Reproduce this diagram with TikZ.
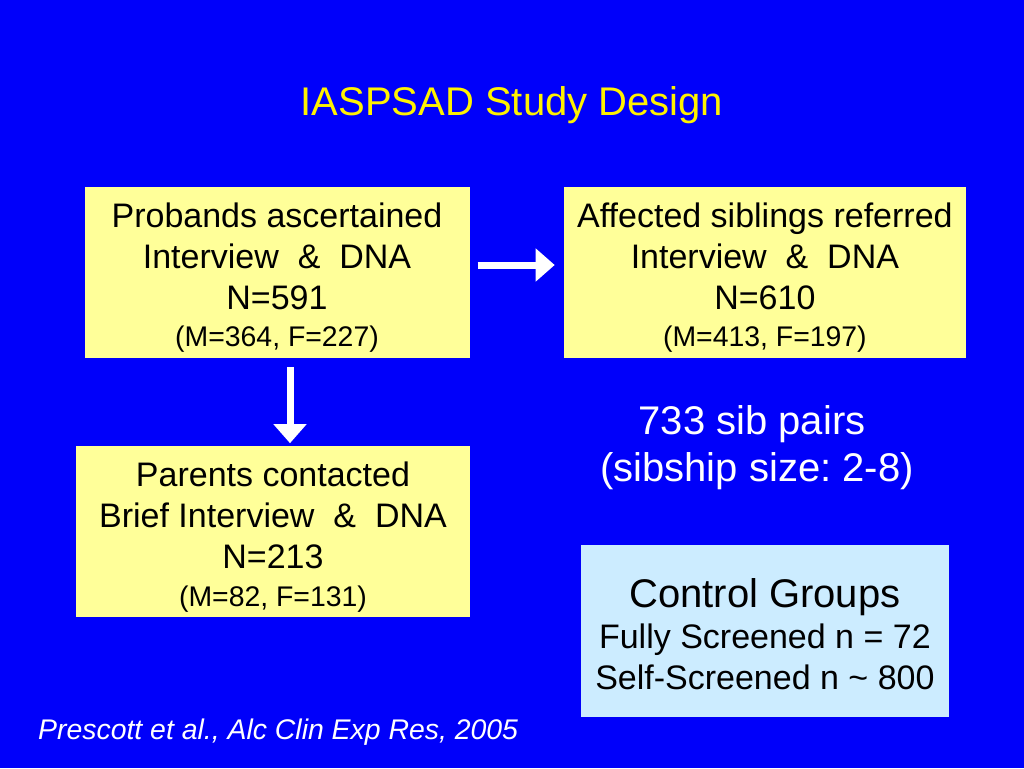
\documentclass[tikz,border=0pt]{standalone}
\usepackage{fontspec}
\setmainfont{Liberation Sans}
\usetikzlibrary{%
	positioning,%
	calc,%
	arrows.meta%
}
\definecolor{slideblue}{RGB}{0,0,250}
\definecolor{boxyellow}{RGB}{255,255,153}
\definecolor{boxcyan}{RGB}{204,236,255}
\newcommand{\boxfont}{\fontsize{34}{41}\selectfont}
\newcommand{\notefont}{\fontsize{28.4}{37}\selectfont}
\newcommand{\headfont}{\fontsize{40}{47}\selectfont}
\newcommand{\topstrut}{\rule{0pt}{35pt}}
\frenchspacing

\begin{document}
\begin{tikzpicture}[x=1pt,y=-1pt,
		flowbox/.style={fill=boxyellow,minimum height=171pt,inner sep=0pt,align=center,font=\boxfont},
		fatarrow/.style={white,line width=7pt,-{Triangle[length=19pt,width=32pt]}}]
			\fill[slideblue] (0,0) rectangle (1024,768);
			\useasboundingbox (0,0) rectangle (1024,768);
			\node[yellow,font=\headfont,anchor=base] (title) at (512,115) {IASPSAD Study Design};
			%
			\node[flowbox,minimum width=385pt] (probands) at (277,272.5)
			{\topstrut Probands ascertained\\Interview\ \ \&\ \ DNA\\N=591\\[-4pt]{\notefont (M=364, F=227)}};
			\node[flowbox,minimum width=402pt,right=94pt of probands] (affected)
			{\topstrut Affected siblings referred\\Interview\ \ \&\ \ DNA\\N=610\\[-4pt]{\notefont (M=413, F=197)}};
			\node[flowbox,minimum width=394pt,below=88pt of probands,xshift=-4pt] (parents)
			{\topstrut Parents contacted\\Brief Interview\ \ \&\ \ DNA\\N=213\\[-3pt]{\notefont (M=82, F=131)}};
			\node[flowbox,fill=boxcyan,minimum width=368pt,minimum height=172pt,below=187pt of affected] (controls)
			{\topstrut{\headfont Control Groups}\\Fully Screened n = 72\\Self-Screened n \textasciitilde{} 800};
			%
			\node[white,font=\headfont,align=center] (sibpairs) at (757,448) {733 sib pairs\hspace*{10pt}\\(sibship size: 2-8)};
			\node[white,font=\notefont\itshape,anchor=base west,inner sep=0pt] (source) at (38,739)
			{Prescott et al., Alc Clin Exp Res, 2005};
			%
			\draw[fatarrow] ($(probands.east)+(8,-7.5)$) -- ($(affected.west)+(-9,-7.5)$);
			\draw[fatarrow] ($(probands.south)+(13,9)$) -- ($(parents.north)+(17,-3)$);
		\end{tikzpicture}
\end{document}
